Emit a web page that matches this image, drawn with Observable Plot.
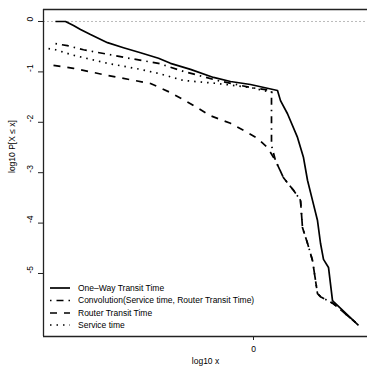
<!DOCTYPE html>
<html><head><meta charset="utf-8">
<script src="https://cdn.jsdelivr.net/npm/d3@7"></script>
<script src="https://cdn.jsdelivr.net/npm/@observablehq/plot@0.6"></script>
<style>
body{margin:0;background:#fff;font-family:"Liberation Sans",Arial,sans-serif;}
#wrap{position:relative;width:367px;height:374px;}
#legend{position:absolute;left:0;top:0;pointer-events:none;}
</style></head><body><div id="wrap"></div>
<script>
const seriesNames = ["One\u2013Way Transit Time", "Convolution(Service time, Router Transit Time)", "Router Transit Time", "Service time"];
const dashes = [null, "1.5,5,7,5", "7,7", "1.5,5"];

const oneWayX = [-1.98,-1.88,-1.80,-1.73,-1.63,-1.46,-1.30,-1.13,-0.95,-0.83,-0.63,-0.40,-0.23,-0.03,0.24,0.27,0.34,0.44,0.50,0.54,0.59,0.64,0.67,0.70,0.75,0.79,0.80,1.05];
const oneWayY = [0,0,-0.08,-0.16,-0.26,-0.42,-0.52,-0.62,-0.73,-0.83,-0.95,-1.11,-1.19,-1.25,-1.37,-1.57,-1.83,-2.30,-2.70,-3.15,-3.55,-3.95,-4.40,-4.72,-4.88,-5.54,-5.56,-6.03];

const convX = [-1.98,-1.86,-1.70,-1.30,-0.95,-0.70,-0.36,-0.03,0.18,0.18,0.22,0.30,0.40,0.47,0.49,0.54,0.59,0.64,0.67,0.80,1.02];
const convY = [-0.44,-0.48,-0.56,-0.71,-0.83,-0.99,-1.17,-1.31,-1.37,-2.46,-2.76,-3.10,-3.35,-3.55,-4.09,-4.40,-4.74,-5.40,-5.46,-5.60,-5.97];

const routerX = [-2.00,-1.80,-1.46,-1.03,-0.83,-0.63,-0.43,-0.23,-0.10,0.04,0.14,0.22,0.30,0.40,0.47,0.49,0.54,0.59,0.64,0.67,0.80,1.02];
const routerY = [-0.87,-0.93,-1.07,-1.23,-1.41,-1.63,-1.87,-2.02,-2.16,-2.32,-2.50,-2.76,-3.10,-3.35,-3.55,-4.09,-4.40,-4.74,-5.40,-5.46,-5.60,-5.97];

const serviceX = [-2.05,-1.98,-1.80,-1.46,-1.13,-0.95,-0.70,-0.36,-0.03,0.19];
const serviceY = [-0.54,-0.56,-0.67,-0.83,-0.95,-1.03,-1.17,-1.23,-1.31,-1.41];

const yTicks = [0,-1,-2,-3,-4,-5];
const xTicks = [0];
const xDomain = [-2.1, 1.14];
const yDomain = [-6.25, 0.238];

const seriesXs = [oneWayX, convX, routerX, serviceX];
const seriesYs = [oneWayY, convY, routerY, serviceY];
const rows = seriesXs.map((xs, i) => xs.map((x, j) => ({series: seriesNames[i], x, y: seriesYs[i][j]})));

const lineMarks = rows.map((data, i) => Plot.line(data, {
  x: "x", y: "y", stroke: "#000", strokeWidth: 1.7,
  strokeDasharray: dashes[i] || undefined, strokeLinecap: "butt", strokeLinejoin: "round", curve: "linear"
}));

const chart = Plot.plot({
  width: 367, height: 374,
  marginLeft: 43, marginRight: 0, marginTop: 9, marginBottom: 38,
  style: {fontFamily: "'Liberation Sans', Arial, sans-serif", fontSize: "8.5px", background: "#fff", color: "#000"},
  x: {domain: xDomain, label: null},
  y: {domain: yDomain, label: null},
  marks: [
    Plot.ruleY([0], {stroke: "#aaa", strokeDasharray: "2,2", strokeWidth: 0.8}),
    ...lineMarks,
    Plot.ruleX([xDomain[0]], {stroke: "#222", strokeWidth: 1.3}),
    Plot.ruleY([yDomain[0], yDomain[1]], {stroke: "#222", strokeWidth: 1.3}),
    Plot.axisY({ticks: yTicks, tickSize: 5, tickFormat: () => "", stroke: "#222"}),
    Plot.text(yTicks, {y: d => d, frameAnchor: "left", dx: -13, rotate: -90, text: d => String(d), fill: "#000"}),
    Plot.axisX({ticks: xTicks, tickSize: 4, tickPadding: 5, tickFormat: d => String(d), stroke: "#222"}),
    Plot.text(["log10 x"], {frameAnchor: "bottom", dy: 27, text: d => d, fill: "#000"}),
    Plot.text(["log10 P[X \u2264 x]"], {frameAnchor: "left", dx: -31, rotate: -90, text: d => d, fill: "#000"})
  ]
});
const wrap = document.getElementById("wrap");
wrap.appendChild(chart);

// legend overlay
const legendY = [288, 300.5, 313, 325];
const svg = d3.select(wrap).append("svg").attr("id", "legend").attr("width", 367).attr("height", 374);
seriesNames.forEach((name, i) => {
  svg.append("line").attr("x1", 50).attr("x2", 70).attr("y1", legendY[i]).attr("y2", legendY[i])
    .attr("stroke", "#000").attr("stroke-width", 1.7).attr("stroke-dasharray", dashes[i]);
  svg.append("text").attr("x", 78).attr("y", legendY[i]).attr("dy", "0.35em")
    .attr("font-size", "8.5px").attr("font-family", "'Liberation Sans', Arial, sans-serif").text(name);
});
</script></body></html>
